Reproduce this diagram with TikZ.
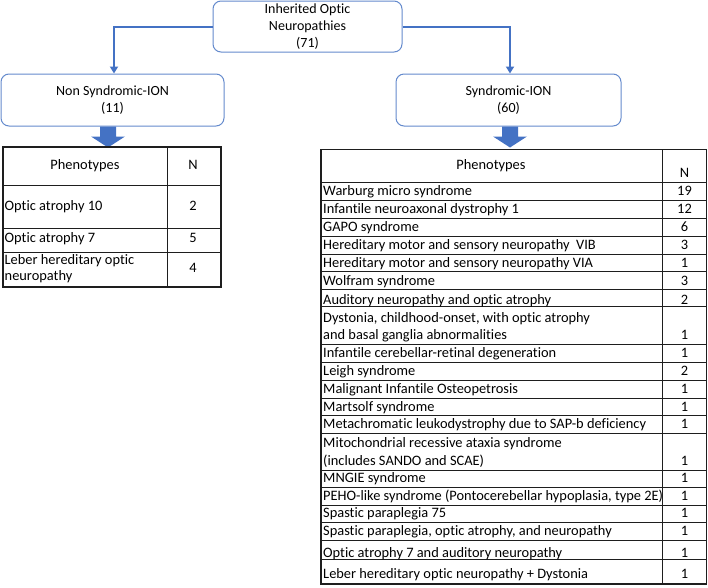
\documentclass[tikz,border=0pt]{standalone}
\usepackage{fontspec}
\setmainfont{Carlito}[Ligatures=NoCommon]
\usetikzlibrary{arrows.meta}
\definecolor{obl}{RGB}{68,114,196}
\definecolor{bxb}{RGB}{100,138,205}
\definecolor{gridc}{RGB}{30,30,30}
\begin{document}
\begin{tikzpicture}[x=1pt,y=-1pt,
  box/.style={draw=bxb, line width=1pt, rounded corners=8pt, fill=white, align=center,
    font=\fontsize{14}{17}\selectfont, inner sep=0pt},
  conn/.style={draw=obl, line width=2pt, -{Triangle[width=8pt,length=7pt]}},
  barrow/.style={fill=obl, draw=none},
  tl/.style={anchor=mid west, inner sep=0pt, font=\fontsize{14.4}{17}\selectfont},
  tc/.style={anchor=mid, inner sep=0pt, font=\fontsize{14.4}{17}\selectfont},
  gridline/.style={draw=gridc, line width=1pt},
  gridframe/.style={draw=gridc, line width=1.3pt}
]
\useasboundingbox (0,0) rectangle (708,587);

% boxes
\node[box, minimum width=189pt, minimum height=51pt] (top) at (307.5,26.5) {Inherited Optic\\Neuropathies\\(71)};
\node[box, minimum width=223pt, minimum height=52pt] (lbox) at (112.5,100) {Non Syndromic-ION\\(11)};
\node[box, minimum width=225pt, minimum height=52pt] (rbox) at (508.5,100) {Syndromic-ION\\(60)};

% connectors
\draw[conn] (top.west) -| ([xshift=1.5pt]lbox.north);
\draw[conn] (top.east) -| ([xshift=1.5pt]rbox.north);

% block arrows
\fill[barrow] ([xshift=-4.5pt]lbox.south) ++(-8,0) -- ++(16,0) -- ++(0,10) -- ++(9,0) -- ++(-17,11) -- ++(-17,-11) -- ++(9,0) -- cycle;
\fill[barrow] ([xshift=1.5pt]rbox.south) ++(-8,0) -- ++(16,0) -- ++(0,10) -- ++(9,0) -- ++(-17,11) -- ++(-17,-11) -- ++(9,0) -- cycle;

% left table
\draw[gridframe] (3,147) rectangle (221,287);
\draw[gridline] (167,147) -- (167,287);
\foreach \y in {185,228,252} \draw[gridline] (3,\y) -- (221,\y);
\node[tc] (lh1) at (85,166.7) {Phenotypes};
\node[tc] (lh2) at (193,166.7) {N};
\node[tl] (l1) at (4.5,207.7) {Optic atrophy 10};
\node[tc] (ln1) at (193,207.7) {2};
\node[tl] (l2) at (4.5,240.3) {Optic atrophy 7};
\node[tc] (ln2) at (193,240.3) {5};
\node[tl] (l3a) at (4.5,261.7) {Leber hereditary optic};
\node[tl] (l3b) at (4.5,278.3) {neuropathy};
\node[tc] (ln3) at (193,270) {4};

% right table
\draw[gridframe] (321,149.3) rectangle (706.7,584);
\draw[gridline] (662,149.3) -- (662,584);
\foreach \y in {182.7,200.7,218,236,254,271.7,289,306.7,344.3,362.7,380.3,398.3,415.7,433.3,470,487.7,505,522.3,540,559.3}
  \draw[gridline] (321,\y) -- (706.7,\y);
\node[tc] (rh1) at (491,166.7) {Phenotypes};
\node[tc] (rh2) at (684.5,175) {N};

\node[tl] (r1) at (323,192.7) {Warburg micro syndrome};
\node[tc] (n1) at (684.5,192.7) {19};
\node[tl] (r2) at (323,210.7) {Infantile neuroaxonal dystrophy 1};
\node[tc] (n2) at (684.5,210.7) {12};
\node[tl] (r3) at (323,229) {GAPO syndrome};
\node[tc] (n3) at (684.5,229) {6};
\node[tl] (r4) at (323,246.7) {Hereditary motor and sensory neuropathy \ VIB};
\node[tc] (n4) at (684.5,246.7) {3};
\node[tl] (r5) at (323,265) {Hereditary motor and sensory neuropathy VIA};
\node[tc] (n5) at (684.5,265) {1};
\node[tl] (r6) at (323,283.3) {Wolfram syndrome};
\node[tc] (n6) at (684.5,283.3) {3};
\node[tl] (r7) at (323,301.7) {Auditory neuropathy and optic atrophy};
\node[tc] (n7) at (684.5,301.7) {2};
\node[tl] (r8a) at (323,320) {Dystonia, childhood-onset, with optic atrophy};
\node[tl] (r8b) at (323,336.7) {and basal ganglia abnormalities};
\node[tc] (n8) at (684.5,336.7) {1};
\node[tl] (r9) at (323,355) {Infantile cerebellar-retinal degeneration};
\node[tc] (n9) at (684.5,355) {1};
\node[tl] (r10) at (323,372.7) {Leigh syndrome};
\node[tc] (n10) at (684.5,372.7) {2};
\node[tl] (r11) at (323,390.7) {Malignant Infantile Osteopetrosis};
\node[tc] (n11) at (684.5,390.7) {1};
\node[tl] (r12) at (323,409) {Martsolf syndrome};
\node[tc] (n12) at (684.5,409) {1};
\node[tl] (r13) at (323,426.5) {Metachromatic leukodystrophy due to SAP-b deficiency};
\node[tc] (n13) at (684.5,426.5) {1};
\node[tl] (r14a) at (323,445) {Mitochondrial recessive ataxia syndrome};
\node[tl] (r14b) at (323,462.7) {(includes SANDO and SCAE)};
\node[tc] (n14) at (684.5,462.7) {1};
\node[tl] (r15) at (323,480.5) {MNGIE syndrome};
\node[tc] (n15) at (684.5,480.5) {1};
\node[tl] (r16) at (323,498) {PEHO-like syndrome (Pontocerebellar hypoplasia, type 2E)};
\node[tc] (n16) at (684.5,498) {1};
\node[tl] (r17) at (323,515.5) {Spastic paraplegia 75};
\node[tc] (n17) at (684.5,515.5) {1};
\node[tl] (r18) at (323,533.5) {Spastic paraplegia, optic atrophy, and neuropathy};
\node[tc] (n18) at (684.5,533.5) {1};
\node[tl] (r19) at (323,555.5) {Optic atrophy 7 and auditory neuropathy};
\node[tc] (n19) at (684.5,555.5) {1};
\node[tl] (r20) at (323,576.5) {Leber hereditary optic neuropathy + Dystonia};
\node[tc] (n20) at (684.5,576.5) {1};
\end{tikzpicture}
\end{document}
